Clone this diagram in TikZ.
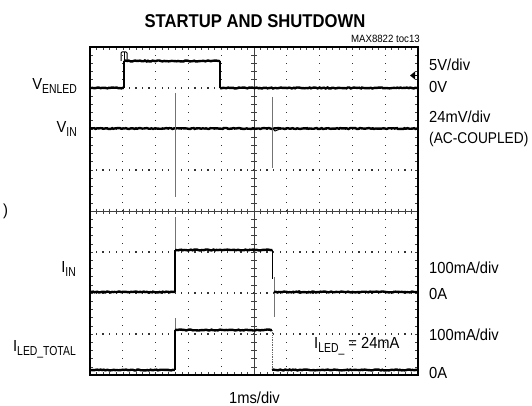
\documentclass[tikz,border=0pt]{standalone}
\usepackage{fontspec}
\newfontfamily\lab{Liberation Sans}[FakeStretch=0.92]
\newfontfamily\labn{Liberation Sans}[FakeStretch=0.88]
\newfontfamily\subf{Liberation Sans}[FakeStretch=0.8]
\newfontfamily\ttl{Liberation Sans}[FakeStretch=0.9]
\usetikzlibrary{decorations.pathmorphing}
\newcommand{\sbs}[1]{\raisebox{-4pt}{\subf\fontsize{13}{13}\selectfont #1}}
\begin{document}
\begin{tikzpicture}[x=1pt,y=-1pt,
  lbl/.style={inner sep=0pt, font=\lab\fontsize{16}{16}\selectfont},
  trace/.style={line width=2.4pt, line cap=butt, decorate,
    decoration={random steps, segment length=1.6pt, amplitude=0.5pt}},
  edge/.style={line width=1.3pt},
  spike/.style={line width=0.8pt, black!55},
  dotc/.style={black!80},
  axis/.style={line width=0.6pt, black!75}]
\pgfmathsetseed{7}
\useasboundingbox (0,0) rectangle (532,406);
% ---------- grid dots ----------
\foreach \k in {1,2,3,4,6,7,8,9} {
  \foreach \j in {1,...,39} {
    \fill[dotc] ({90+32.8*\k-0.65},{47+8.2*\j-0.65}) rectangle ++(1.3,1.3);
  }
}
\foreach \m in {1,2,3,5,6,7} {
  \foreach \i in {1,...,49} {
    \fill[dotc] ({90+6.56*\i-0.65},{47+41*\m-0.65}) rectangle ++(1.3,1.3);
  }
}
% ---------- centre axes ----------
\draw[axis] (90,211) -- (418,211);
\draw[axis] (254,47) -- (254,375);
\foreach \i in {1,...,49} {
  \draw[axis] ({90+6.56*\i},208.5) -- ({90+6.56*\i},213.5);
  \draw[axis] ({90+6.56*\i},47) -- ({90+6.56*\i},50);
  \draw[axis] ({90+6.56*\i},372) -- ({90+6.56*\i},375);
}
\foreach \j in {1,...,39} {
  \draw[axis] (251,{47+8.2*\j}) -- (257,{47+8.2*\j});
  \draw[axis] (90,{47+8.2*\j}) -- (93,{47+8.2*\j});
  \draw[axis] (415,{47+8.2*\j}) -- (418,{47+8.2*\j});
}
% ---------- frame ----------
\draw[line width=2.6pt] (90,47) rectangle (418,375);
% ---------- V_ENLED ----------
\draw[trace] (91,88) -- (124,88);
\draw[edge] (124,88) -- (124,61);
\draw[trace] (124,61) -- (220,61);
\draw[edge] (220,61) -- (220,88);
\draw[trace] (220,88) -- (417,88);
\draw[line width=1pt, rounded corners=1pt] (121,61) -- (121,52) -- (127,52) -- (127,61);
\draw[line width=1pt] (124,52) -- (124,61);
% ground marker
\fill (410,75.5) -- (415,71.5) -- (415,79.5) -- cycle;
\draw[line width=1pt] (414,75.5) -- (418,75.5);
% ---------- V_IN ----------
\draw[trace] (91,128.5) -- (417,128.5);
\draw[spike] (175,93) -- (175,197);
\draw[spike] (272.5,97) -- (272.5,168);
\draw[line width=1pt] (272.5,128.5) -- (275,131) -- (280,129);
% ---------- I_IN ----------
\draw[trace] (91,292) -- (175,292);
\draw[edge] (175,292) -- (175,250);
\draw[spike] (175,250) -- (175,217);
\draw[trace] (175,250) -- (272.5,250);
\draw[edge] (272.5,250) -- (272.5,279);
\draw[spike] (274,277) -- (274,317);
\draw[trace] (274,292) -- (417,292);
% ---------- I_LED_TOTAL ----------
\draw[trace] (91,370) -- (175,370);
\draw[edge] (175,370) -- (175,330);
\draw[spike] (175,330) -- (175,318);
\draw[trace] (175,330) -- (272,330);
\draw[densely dotted, line width=0.7pt, black!60] (272,330) -- (272,370);
\draw[trace] (272,370) -- (417,370);
% ---------- texts ----------
\node[inner sep=0pt, anchor=base, font=\ttl\bfseries\fontsize{18.5}{18.5}\selectfont] (title) at (255,27.5) {STARTUP AND SHUTDOWN};
\node[inner sep=0pt, anchor=base east, font=\lab\fontsize{10.5}{10.5}\selectfont] (toc) at (420,42.5) {MAX8822 toc13};
\node[lbl, anchor=base west] (r1) at (429,71) {5V/div};
\node[lbl, anchor=base west] (r2) at (429,92.5) {0V};
\node[lbl, anchor=base west] (r3) at (429,123) {24mV/div};
\node[inner sep=0pt, font=\labn\fontsize{15.6}{15.6}\selectfont, anchor=base west] (r4) at (429,143.5) {(AC-COUPLED)};
\node[lbl, anchor=base west] (r5) at (429,273) {100mA/div};
\node[lbl, anchor=base west] (r6) at (429,299) {0A};
\node[lbl, anchor=base west] (r7) at (429,340) {100mA/div};
\node[lbl, anchor=base west] (r8) at (429,378) {0A};
\node[lbl, anchor=base east] (l1) at (77,90) {V\sbs{ENLED}};
\node[lbl, anchor=base east] (l2) at (77,133) {V\sbs{IN}};
\node[lbl, anchor=base west] (l3) at (3,215) {)};
\node[lbl, anchor=base east] (l4) at (76,272.5) {I\sbs{IN}};
\node[lbl, anchor=base east] (l5) at (76,351.5) {I\sbs{LED\_TOTAL}};
\node[lbl, anchor=base west] (note) at (314,348) {I\sbs{LED\_} = 24mA};
\node[lbl, anchor=base] (xdiv) at (254.5,403) {1ms/div};
\end{tikzpicture}
\end{document}
